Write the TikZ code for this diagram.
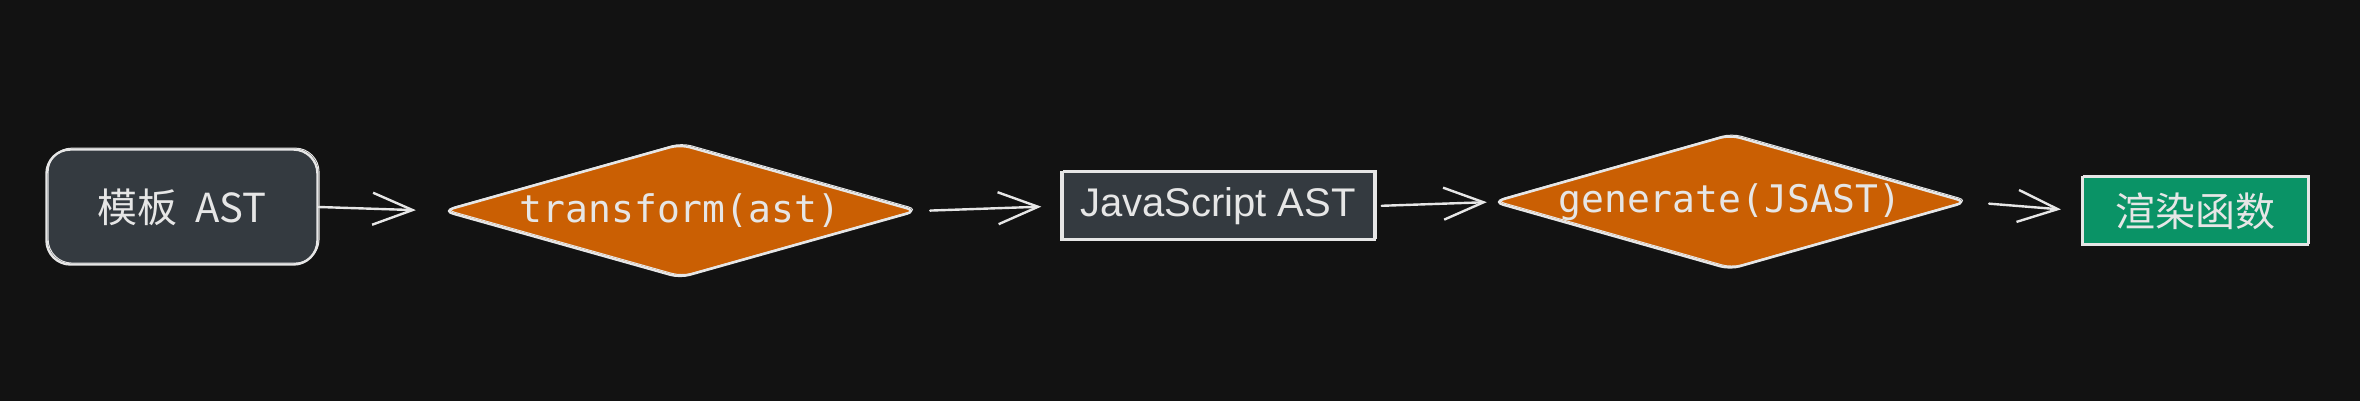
\documentclass[tikz,border=0pt]{standalone}
\usepackage{fontspec}
\setmainfont{Liberation Sans}
\newfontfamily\cjkfont{Noto Sans CJK SC}
\newfontfamily\codefont{DejaVu Sans Mono}
\usetikzlibrary{arrows.meta,shapes.geometric}
\definecolor{canvas}{HTML}{121212}
\definecolor{chalk}{HTML}{E6E6E6}
\definecolor{slab}{HTML}{343A40}
\definecolor{rust}{HTML}{CA5F03}
\definecolor{jade}{HTML}{0A9366}

\begin{document}
\begin{tikzpicture}[
  x=0.5pt,
  y=-0.5pt,
  >={Straight Barb[length=20pt,width=16pt]},
  sketch/.style={postaction={draw=chalk,line width=0.5pt,
    transform canvas={shift={(0.8pt,0.7pt)}}}},
  stagebox/.style={draw=chalk,line width=1.2pt,text=chalk,inner sep=0pt,sketch},
  passnode/.style={diamond,aspect=3.5,draw=chalk,line width=1.2pt,fill=rust,
    rounded corners=5pt,text=chalk,inner sep=0pt,minimum width=237pt,
    minimum height=67pt,font=\codefont\fontsize{19}{22}\selectfont,sketch},
  flow/.style={->,chalk,line width=1.2pt,line cap=round}
]

% Canvas
\fill[canvas] (0,0) rectangle (2360,401);

% Stages
\node[stagebox,fill=slab,rounded corners=12pt,minimum width=135.5pt,
  minimum height=57.5pt,font=\cjkfont\fontsize{20}{24}\selectfont]
  (tpl) at (182,207) {模板~~AST};
\node[passnode] (transform) at (680,211) {transform(ast)};
\node[stagebox,fill=slab,minimum width=156.5pt,minimum height=34pt,
  font=\fontsize{20}{24}\selectfont]
  (jsast) at (1218,206) {JavaScript AST};
\node[passnode] (generate) at (1730,202) {generate(JSAST)};
\node[stagebox,fill=jade,minimum width=113pt,minimum height=34pt,
  font=\cjkfont\fontsize{20}{24}\selectfont]
  (render) at (2195,211) {渲染函数};

% Flow between stages
\draw[flow,shorten >=13pt] (tpl.east) -- (transform.west);
\draw[flow,shorten <=6pt,shorten >=9.5pt] (transform.east) -- (jsast.west);
\draw[flow,shorten <=3pt,shorten >=2.5pt] (jsast.east) -- (generate.west);
\draw[flow,shorten <=10.5pt,shorten >=10pt] (generate.east) -- (render.west);

\end{tikzpicture}
\end{document}
